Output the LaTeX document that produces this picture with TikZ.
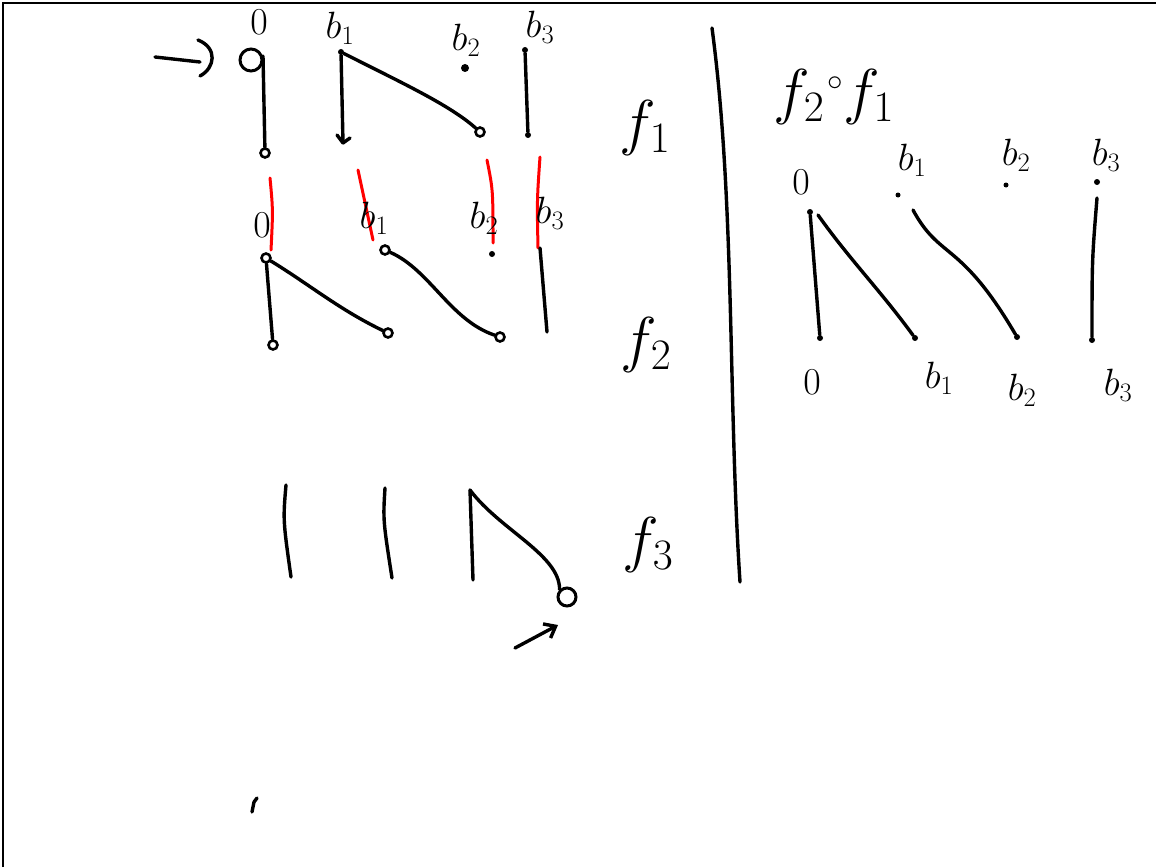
\documentclass[tikz,border=0pt]{standalone}
\usepackage{fix-cm}
\usetikzlibrary{arrows.meta}
\begin{document}
\begin{tikzpicture}[x=1pt,y=-1pt,
  ink/.style={line width=3.4pt,line cap=round,line join=round},
  redink/.style={line width=3pt,red,line cap=round},
  odot/.style={circle,draw,line width=2.6pt,minimum size=9pt,inner sep=0pt,fill=white},
  sdot/.style={circle,fill,minimum size=6pt,inner sep=0pt},
  lbl/.style={font=\fontsize{38}{40}\selectfont,inner sep=0pt},
  big/.style={font=\fontsize{62}{66}\selectfont,inner sep=0pt}]
\useasboundingbox (0,0) rectangle (1156,867);
\draw[line width=2pt] (3,867) -- (3,3) -- (1156,3);

% ---------- f1 ----------
\node[lbl] (l0a) at (259,22) {$0$};
\node[lbl] (l1a) at (340,28) {$b_1$};
\node[lbl] (l2a) at (466,40) {$b_2$};
\node[lbl] (l3a) at (540,27) {$b_3$};
\node[circle,draw,line width=3pt,minimum size=22pt,inner sep=0pt] (big0) at (251,60) {};
\coordinate (t0) at (263,56);
\node[odot] (d0) at (265,153) {};
\node[sdot] (t1) at (341,52) {};
\coordinate (d1) at (343,143);
\node[sdot,minimum size=8pt] (t2) at (465,68) {};
\node[odot] (d2) at (480,132) {};
\node[sdot] (t3) at (525,50) {};
\node[sdot] (d3) at (528,135) {};
\draw[ink] (t0) -- (d0);
\draw[ink] (t1) -- (d1);
\draw[ink] (337,135) -- (d1) -- (350,138);
\draw[ink] (t1) .. controls (400,82) and (450,105) .. (d2);
\draw[ink] (t3) -- (d3);
\node[big] (f1) at (645,128) {$f_1$};
% arrow pointing at 0
\coordinate (arrS) at (155,57);
\coordinate (arrE) at (200,62);
\draw[ink] (arrS) -- (arrE);
\draw[ink] (198,40) .. controls (218,48) and (215,68) .. (200,76);

% ---------- red marks ----------
\draw[redink] (270,178) .. controls (273,210) .. (271,250);
\draw[redink] (358,170) -- (373,240);
\draw[redink] (487,160) .. controls (493,190) .. (493,243);
\draw[redink] (540,157) .. controls (537,200) .. (538,248);

% ---------- f2 ----------
\node[lbl] (l0b) at (262,225) {$0$};
\node[lbl] (l1b) at (374,218) {$b_1$};
\node[lbl] (l2b) at (484,218) {$b_2$};
\node[lbl] (l3b) at (550,213) {$b_3$};
\node[sdot] (t2b) at (492,254) {};
\node[odot] (t0b) at (266,258) {};
\node[odot] (d0b) at (273,345) {};
\node[odot] (d1b) at (388,333) {};
\node[odot] (t1b) at (385,250) {};
\node[odot] (d2b) at (500,337) {};
\coordinate (t3b) at (540,248);
\coordinate (d3b) at (547,332);
\draw[ink] (t0b) -- (d0b);
\draw[ink] (t0b) .. controls (310,285) and (340,310) .. (d1b);
\draw[ink] (t1b) .. controls (430,270) and (450,320) .. (d2b);
\draw[ink] (t3b) -- (d3b);
\node[big] (f2) at (646,345) {$f_2$};

% ---------- f3 ----------
\coordinate (a0) at (286,485); \coordinate (b0) at (291,577);
\coordinate (a1) at (385,488); \coordinate (b1) at (392,578);
\coordinate (a2) at (470,490); \coordinate (b2) at (473,580);
\node[circle,draw,line width=3pt,minimum size=18pt,inner sep=0pt] (c3) at (567,597) {};
\draw[ink] (a0) .. controls (283,520) .. (b0);
\draw[ink] (a1) .. controls (383,520) .. (b1);
\draw[ink] (a2) -- (b2);
\draw[ink] (a2) .. controls (500,530) and (560,555) .. (c3.north west);
\coordinate (ar3) at (515,648);
\coordinate (ar3e) at (558,625);
\draw[ink,-{Straight Barb[length=10pt,width=16pt]}] (ar3) -- (ar3e);
\node[big] (f3) at (648,545) {$f_3$};

% ---------- divider ----------
\coordinate (dv1) at (712,28);
\coordinate (dv2) at (740,582);
\draw[ink] (dv1) .. controls (735,200) and (728,400) .. (dv2);

% ---------- f2 o f1 ----------
\node[big] (comp) at (834,97) {$f_2\mkern1mu{}^{\scriptscriptstyle\circ}\mkern0mu f_1$};
\node[lbl] (r0) at (801,182) {$0$};
\node[lbl] (r1) at (912,160) {$b_1$};
\node[lbl] (r2) at (1016,155) {$b_2$};
\node[lbl] (r3) at (1106,155) {$b_3$};
\node[sdot,minimum size=5pt] (rt1) at (898,195) {};
\node[sdot,minimum size=5pt] (rt2) at (1006,185) {};
\node[sdot] (rt3) at (1097,182) {};
\node[sdot] (rt0) at (810,212) {};
\node[sdot] (rd0) at (820,338) {};
\node[sdot] (rd1) at (915,338) {};
\node[sdot] (rd2) at (1017,337) {};
\node[sdot] (rd3) at (1092,340) {};
\draw[ink] (rt0) -- (rd0);
\draw[ink] (818,215) .. controls (850,260) and (880,290) .. (rd1);
\draw[ink] (913,210) .. controls (940,260) and (960,240) .. (rd2);
\draw[ink] (1097,198) .. controls (1092,260) .. (rd3);
\node[lbl] (s0) at (812,382) {$0$};
\node[lbl] (s1) at (939,378) {$b_1$};
\node[lbl] (s2) at (1022,390) {$b_2$};
\node[lbl] (s3) at (1118,385) {$b_3$};

% stray mark
\draw[ink] (252,812) -- (254,802) -- (257,798);
\end{tikzpicture}
\end{document}
